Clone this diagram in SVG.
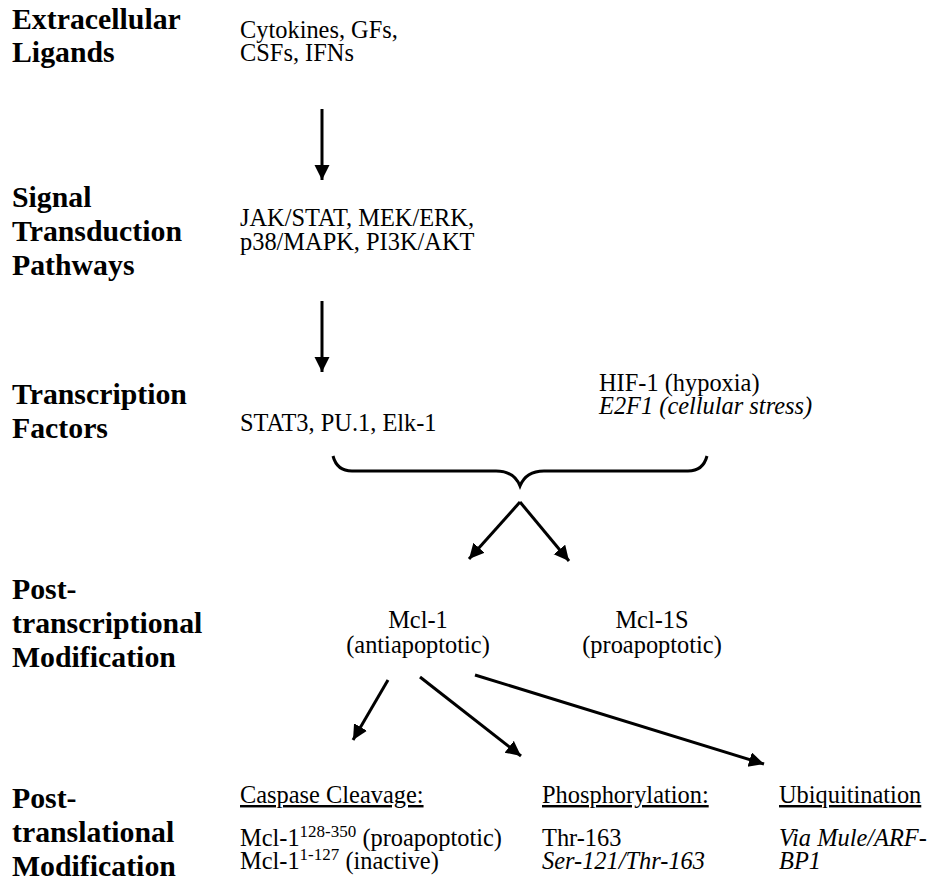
<svg xmlns="http://www.w3.org/2000/svg" width="935" height="882" viewBox="0 0 935 882" font-family="'Liberation Serif', 'Times New Roman', Times, serif">
<style>
text{font-family:'Liberation Serif','Times New Roman',Times,serif}
.h{font-weight:bold;font-size:29.8px;fill:#000}
.t{font-size:24.4px;fill:#000}
.i{font-style:italic}
.u{text-decoration:underline}
.c{text-anchor:middle}
.ln{stroke:#000;stroke-width:3;fill:none}
</style>
<defs>
<marker id="ah" markerWidth="6" markerHeight="6" refX="5" refY="2.5" orient="auto" markerUnits="strokeWidth">
<path d="M0,0 L5,2.5 L0,5 Z" fill="#000"/>
</marker>
</defs>
<rect width="935" height="882" fill="#fff"/>

<g id="row-extracellular">
<text class="h" x="12" y="29">Extracellular</text>
<text class="h" x="12" y="62">Ligands</text>
<text class="t" x="240" y="38">Cytokines, GFs,</text>
<text class="t" x="240" y="61">CSFs, IFNs</text>
</g>

<g id="row-signal">
<text class="h" x="12" y="207">Signal</text>
<text class="h" x="12" y="241">Transduction</text>
<text class="h" x="12" y="275">Pathways</text>
<text class="t" x="240" y="226">JAK/STAT, MEK/ERK,</text>
<text class="t" x="240" y="250">p38/MAPK, PI3K/AKT</text>
</g>

<g id="row-tf">
<text class="h" x="12" y="404">Transcription</text>
<text class="h" x="12" y="438">Factors</text>
<text class="t" x="240" y="431">STAT3, PU.1, Elk-1</text>
<text class="t" x="599" y="391">HIF-1 (hypoxia)</text>
<text class="t i" x="599" y="414">E2F1 (cellular stress)</text>
</g>

<g id="row-posttranscriptional">
<text class="h" x="12" y="599">Post-</text>
<text class="h" x="12" y="633">transcriptional</text>
<text class="h" x="12" y="667">Modification</text>
<text class="t c" x="418" y="628">Mcl-1</text>
<text class="t c" x="418" y="653">(antiapoptotic)</text>
<text class="t c" x="652" y="628">Mcl-1S</text>
<text class="t c" x="652" y="653">(proapoptotic)</text>
</g>

<g id="row-posttranslational">
<text class="h" x="12" y="808">Post-</text>
<text class="h" x="12" y="842">translational</text>
<text class="h" x="12" y="876">Modification</text>
<text class="t u" x="240" y="803">Caspase Cleavage:</text>
<text class="t" x="240" y="846">Mcl-1<tspan font-size="17" dy="-9">128-350</tspan><tspan dy="9"> (proapoptotic)</tspan></text>
<text class="t" x="240" y="869">Mcl-1<tspan font-size="17" dy="-9">1-127</tspan><tspan dy="9"> (inactive)</tspan></text>
<text class="t u" x="542" y="803">Phosphorylation:</text>
<text class="t" x="542" y="846">Thr-163</text>
<text class="t i" x="542" y="869">Ser-121/Thr-163</text>
<text class="t u" x="779" y="803">Ubiquitination</text>
<text class="t i" x="779" y="846">Via Mule/ARF-</text>
<text class="t i" x="779" y="869">BP1</text>
</g>

<g id="connectors">
<line class="ln" x1="322" y1="109" x2="322" y2="180" marker-end="url(#ah)"/>
<line class="ln" x1="322" y1="301" x2="322" y2="372" marker-end="url(#ah)"/>
<path class="ln" d="M333,456 Q337,471 352,471 L496,471 Q514,471 520,486 Q526,471 544,471 L688,471 Q703,471 707,456"/>
<line class="ln" x1="520" y1="502" x2="469" y2="559" marker-end="url(#ah)"/>
<line class="ln" x1="520" y1="502" x2="569" y2="561" marker-end="url(#ah)"/>
<line class="ln" x1="388" y1="680" x2="353" y2="740" marker-end="url(#ah)"/>
<line class="ln" x1="420" y1="677" x2="521" y2="756" marker-end="url(#ah)"/>
<line class="ln" x1="475" y1="675" x2="764" y2="764" marker-end="url(#ah)"/>
</g>
</svg>
